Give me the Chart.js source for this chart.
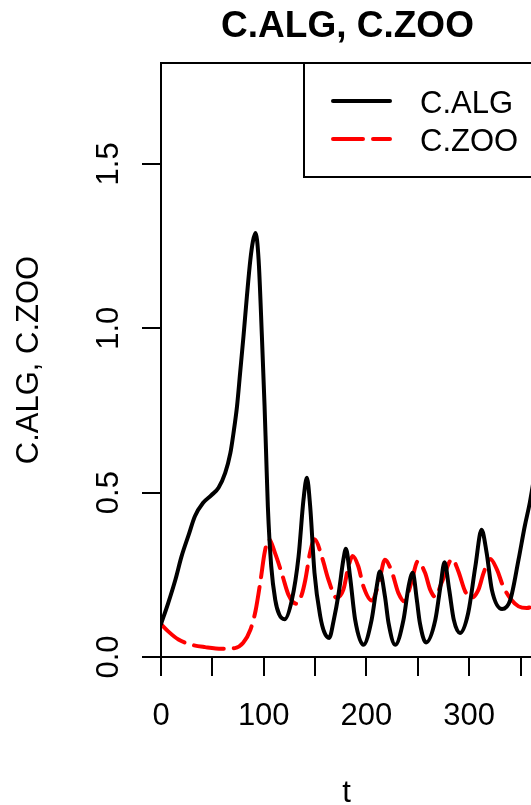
<!DOCTYPE html>
<html>
<head>
<meta charset="utf-8">
<title>C.ALG, C.ZOO</title>
<script src="https://cdn.jsdelivr.net/npm/chart.js@4.4.1/dist/chart.umd.min.js"></script>
<style>
  html, body { margin: 0; padding: 0; overflow: hidden; background: #fff; }
  #wrap { width: 545px; height: 805px; }
</style>
</head>
<body>
<div id="wrap"><canvas id="concChart" width="545" height="805"></canvas></div>
<script>
// algae concentration over time
const tAlg = [0, 7, 14, 20, 27, 33, 41, 49, 56, 62.5,
  67.5, 70.5, 74, 77, 80.3, 83.6, 87, 89.5, 92, 95,
  98.2, 100.8, 102.2, 104, 107.3, 111.2, 115, 120.3, 127.4, 133.9,
  138.7, 142, 145.2, 149.4, 155, 159, 163.7, 168, 173, 177.5,
  180, 184, 189, 197, 205, 210, 213, 218, 221.5, 228,
  236, 241, 245, 249, 252, 258, 267, 272, 276, 280.5,
  285, 291, 299, 306, 312, 317, 322, 332, 340, 348,
  354, 359, 365];
const algValues = [0.10, 0.164, 0.235, 0.306, 0.372, 0.428, 0.469, 0.492, 0.515, 0.56,
  0.62, 0.68, 0.763, 0.864, 0.976, 1.097, 1.209, 1.265, 1.29, 1.209,
  0.976, 0.763, 0.63, 0.458, 0.276, 0.174, 0.13, 0.115, 0.174, 0.306,
  0.479, 0.545, 0.458, 0.256, 0.124, 0.075, 0.058, 0.11, 0.195, 0.296,
  0.329, 0.245, 0.113, 0.037, 0.113, 0.215, 0.26, 0.184, 0.103, 0.037,
  0.113, 0.215, 0.256, 0.174, 0.103, 0.044, 0.113, 0.215, 0.288, 0.205,
  0.113, 0.073, 0.134, 0.276, 0.387, 0.316, 0.205, 0.146, 0.174, 0.296,
  0.397, 0.47, 0.58];

// zooplankton concentration over time
const tZoo = [0, 7, 17, 30, 43, 59, 72, 80, 87, 92,
  97, 101, 105, 111, 118, 124, 132, 137, 140.5, 145,
  149.5, 157, 163, 171, 177.5, 182.5, 186.5, 192, 197, 205,
  212, 218, 225, 231, 237, 243.5, 250, 257, 262, 267,
  273, 283.5, 289.5, 296, 302, 309, 314, 320.5, 327, 333,
  341, 348, 356, 365];
const zooValues = [0.10, 0.078, 0.053, 0.037, 0.03, 0.025, 0.027, 0.043, 0.083, 0.14,
  0.235, 0.32, 0.358, 0.316, 0.25, 0.19, 0.162, 0.19, 0.235, 0.316,
  0.358, 0.3, 0.235, 0.18, 0.205, 0.276, 0.307, 0.276, 0.215, 0.172,
  0.225, 0.296, 0.256, 0.195, 0.169, 0.225, 0.291, 0.256, 0.205, 0.183,
  0.225, 0.298, 0.26, 0.2, 0.18, 0.205, 0.256, 0.298, 0.266, 0.215,
  0.174, 0.154, 0.149, 0.16];

const seriesNames = ['C.ALG', 'C.ZOO'];
const xTicks = [0, 50, 100, 150, 200, 250, 300, 350];
const xTickLabels = ['0', '', '100', '', '200', '', '300', ''];
const yTicks = [0, 0.5, 1, 1.5];
const yTickLabels = ['0.0', '0.5', '1.0', '1.5'];

const baseFont = "'Liberation Sans', Arial, sans-serif";
Chart.defaults.font.family = baseFont;
Chart.defaults.color = '#000';

// box, titles, rotated y labels and legend in the old base-graphics style
const frameText = {
  id: 'frameText',
  afterDraw(chart) {
    const { ctx, chartArea: a } = chart;
    const yScale = chart.scales.y;
    const midX = (a.left + a.right) / 2;
    const midY = (a.top + a.bottom) / 2;
    ctx.save();
    ctx.strokeStyle = '#000';
    ctx.lineWidth = 2;
    ctx.strokeRect(a.left, a.top, a.right - a.left, a.bottom - a.top);

    ctx.fillStyle = '#000';
    ctx.textAlign = 'center';
    ctx.textBaseline = 'alphabetic';
    ctx.font = 'bold 37px ' + baseFont;
    ctx.fillText(seriesNames.join(', '), midX - 1, 37);

    ctx.font = '31px ' + baseFont;
    ctx.fillText('t', midX - 2, 802);

    yTicks.forEach((v, i) => {
      ctx.save();
      ctx.translate(118, yScale.getPixelForValue(v));
      ctx.rotate(-Math.PI / 2);
      ctx.fillText(yTickLabels[i], 0, 0);
      ctx.restore();
    });

    ctx.save();
    ctx.translate(37.5, midY);
    ctx.rotate(-Math.PI / 2);
    ctx.fillText(seriesNames.join(', '), 0, 0);
    ctx.restore();

    // legend box
    const lx = 304, lb = 177;
    ctx.fillStyle = '#fff';
    ctx.fillRect(lx, a.top, chart.width - lx + 10, lb - a.top);
    ctx.strokeRect(lx, a.top, chart.width - lx + 10, lb - a.top);
    chart.data.datasets.forEach((ds, i) => {
      const y = 101 + i * 38;
      ctx.save();
      ctx.strokeStyle = ds.borderColor;
      ctx.lineWidth = ds.borderWidth;
      ctx.lineCap = 'round';
      ctx.setLineDash(ds.borderDash || []);
      ctx.beginPath();
      ctx.moveTo(333, y);
      ctx.lineTo(390, y);
      ctx.stroke();
      ctx.restore();
      ctx.fillStyle = '#000';
      ctx.textAlign = 'left';
      ctx.fillText(ds.label, 420, y + 12);
    });
    ctx.restore();
  }
};

const tickGrid = {
  display: true,
  drawOnChartArea: false,
  drawTicks: true,
  tickLength: 19,
  tickColor: '#000',
  tickWidth: 2,
  color: '#000',
  lineWidth: 2
};

new Chart(document.getElementById('concChart'), {
  type: 'line',
  data: {
    datasets: [
      {
        label: seriesNames[0],
        data: tAlg.map((t, i) => ({ x: t, y: algValues[i] })),
        borderColor: '#000000',
        borderWidth: 4,
        borderCapStyle: 'round',
        cubicInterpolationMode: 'monotone',
        pointRadius: 0,
        fill: false
      },
      {
        label: seriesNames[1],
        data: tZoo.map((t, i) => ({ x: t, y: zooValues[i] })),
        borderColor: '#FF0000',
        borderWidth: 4,
        borderDash: [30, 10],
        borderCapStyle: 'round',
        cubicInterpolationMode: 'monotone',
        pointRadius: 0,
        fill: false
      }
    ]
  },
  options: {
    responsive: false,
    animation: false,
    events: [],
    layout: { padding: { left: 0, top: 63, right: 9, bottom: 0 } },
    plugins: {
      legend: { display: false },
      title: { display: false },
      tooltip: { enabled: false }
    },
    scales: {
      x: {
        type: 'linear',
        min: 0,
        max: 365,
        afterBuildTicks: s => { s.ticks = xTicks.map(v => ({ value: v })); },
        afterFit: s => { s.height = 148; },
        ticks: {
          padding: 22,
          maxRotation: 0,
          autoSkip: false,
          font: { size: 31 },
          color: '#000',
          callback: (v, i) => xTickLabels[i]
        },
        grid: tickGrid,
        border: { display: false }
      },
      y: {
        type: 'linear',
        min: 0,
        max: 1.807,
        afterBuildTicks: s => { s.ticks = yTicks.map(v => ({ value: v })); },
        afterFit: s => { s.width = 161; },
        ticks: { display: false },
        grid: tickGrid,
        border: { display: false }
      }
    }
  },
  plugins: [frameText]
});
</script>
</body>
</html>
